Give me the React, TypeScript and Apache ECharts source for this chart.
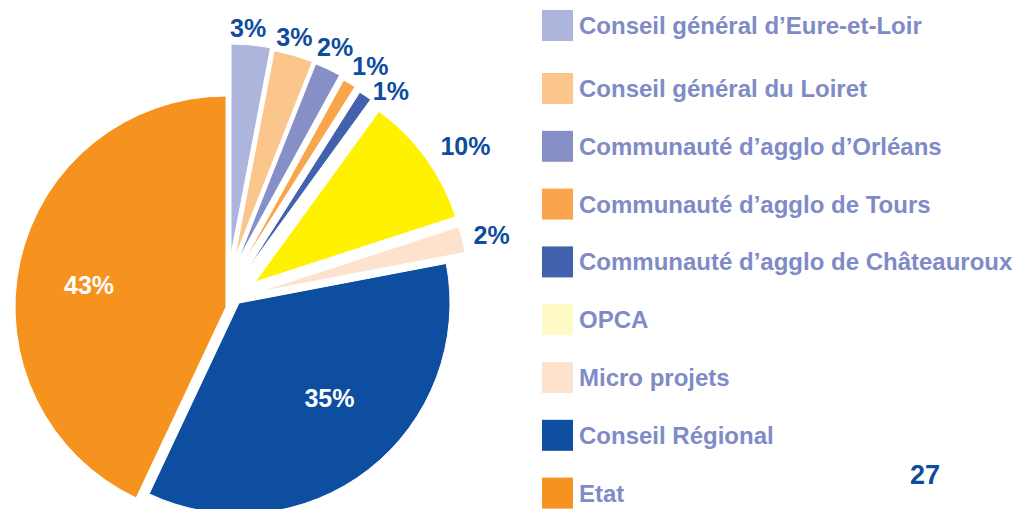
import React, { useEffect, useRef } from "react";
import * as echarts from "echarts";

// ---- data ----
const categories = [
  "Conseil général d’Eure-et-Loir",
  "Conseil général du Loiret",
  "Communauté d’agglo d’Orléans",
  "Communauté d’agglo de Tours",
  "Communauté d’agglo de Châteauroux",
  "OPCA",
  "Micro projets",
  "Conseil Régional",
  "Etat",
];
const shares = [3, 3, 2, 1, 1, 10, 2, 35, 43];
const sliceColors = [
  "#adb5dc",
  "#fbc68b",
  "#8790c6",
  "#f8a54b",
  "#4262ae",
  "#fff200",
  "#fde3cd",
  "#0e4ea1",
  "#f6921e",
];
const legendColors = [
  "#adb5dc",
  "#fbc68b",
  "#8790c6",
  "#f8a54b",
  "#4262ae",
  "#fff9c6",
  "#fde3cd",
  "#0e4ea1",
  "#f6921e",
];
const insideLabel = [false, false, false, false, false, false, false, true, true];
const pageNumber = "27";

// ---- layout ----
const BASE_CENTER = [226, 307];
const RADIUS = 211;
// explosion offset of each slice (px) relative to the base centre
const explode = [
  [5, -52],
  [8.7, -49],
  [12, -47],
  [16, -42],
  [20.7, -36.7],
  [29, -25],
  [32, -15],
  [13, -4],
  [0, 0],
];
// label placement: distance from the slice centre (px) and shift of angle from the bisector (deg)
const labelDist = [228, 229, 234, 237, 230, 250.6, 240.5, 131.4, 138.7];
const labelAngleShift = [-1.1, -1.1, -0.7, 2.2, 4.6, 3.1, 0.6, -5.7, -3.6];

const FONT = "'Liberation Sans', Arial, Helvetica, sans-serif";
const LABEL_BLUE = "#0d4c9e";
const LEGEND_TEXT = "#7f8bc7";

export default function App() {
  const ref = useRef<HTMLDivElement>(null);

  useEffect(() => {
    if (!ref.current) return;
    const chart = echarts.init(ref.current, undefined, { renderer: "svg" });
    const total = shares.reduce((a, b) => a + b, 0);

    const series = categories.map((_, i) => {
      const cx = BASE_CENTER[0] + explode[i][0];
      const cy = BASE_CENTER[1] + explode[i][1];
      const before = shares.slice(0, i).reduce((a, b) => a + b, 0);
      const mid =
        ((before + shares[i] / 2) / total) * Math.PI * 2 +
        (labelAngleShift[i] * Math.PI) / 180;
      const sx = Math.sin(mid);
      const sy = -Math.cos(mid);
      return {
        type: "pie",
        center: [cx, cy],
        radius: [0, RADIUS],
        startAngle: 90,
        clockwise: true,
        silent: true,
        avoidLabelOverlap: false,
        emphasis: { disabled: true },
        labelLine: { show: false },
        data: categories.map((name, j) => ({
          name,
          value: shares[j],
          itemStyle: {
            color: j === i ? sliceColors[j] : "rgba(0,0,0,0)",
            borderColor: j === i ? "#ffffff" : "rgba(0,0,0,0)",
            borderWidth: j === i ? 1 : 0,
          },
          label: {
            show: j === i,
            position: "outside",
            formatter: (p: any) => `${p.value}%`,
            color: insideLabel[j] ? "#ffffff" : LABEL_BLUE,
            fontFamily: FONT,
            fontWeight: "bold",
            fontSize: 25,
          },
          labelLine: { show: false },
        })),
        labelLayout: (p: any) => {
          if (p.dataIndex !== i) return {};
          const k = labelDist[i];
          return {
            x: cx + k * sx,
            y: cy + k * sy,
            align: "center",
            verticalAlign: "middle",
          };
        },
      };
    });

    const legendItem = (j: number) => ({
      name: categories[j],
      itemStyle: { color: legendColors[j], borderWidth: 0 },
    });
    const legendCommon = {
      orient: "vertical",
      left: 542,
      padding: 0,
      itemWidth: 31,
      itemHeight: 31,
      icon: "rect",
      selectedMode: false,
      itemStyle: { borderWidth: 0 },
      textStyle: {
        color: LEGEND_TEXT,
        fontFamily: FONT,
        fontWeight: "bold",
        fontSize: 24,
        padding: [4, 0, 0, 1],
      },
    };

    chart.setOption({
      animation: false,
      backgroundColor: "#ffffff",
      legend: [
        { ...legendCommon, top: 10, data: [legendItem(0)] },
        {
          ...legendCommon,
          top: 73,
          itemGap: 26.8,
          data: categories.slice(1).map((_, k) => legendItem(k + 1)),
        },
      ],
      graphic: [
        {
          type: "text",
          left: 910,
          top: 461,
          style: {
            text: pageNumber,
            font: `bold 27px ${FONT}`,
            fill: LABEL_BLUE,
          },
        },
      ],
      series,
    });

    return () => chart.dispose();
  }, []);

  return (
    <div
      ref={ref}
      style={{ position: "fixed", left: 0, top: 0, width: 1016, height: 509 }}
    />
  );
}
